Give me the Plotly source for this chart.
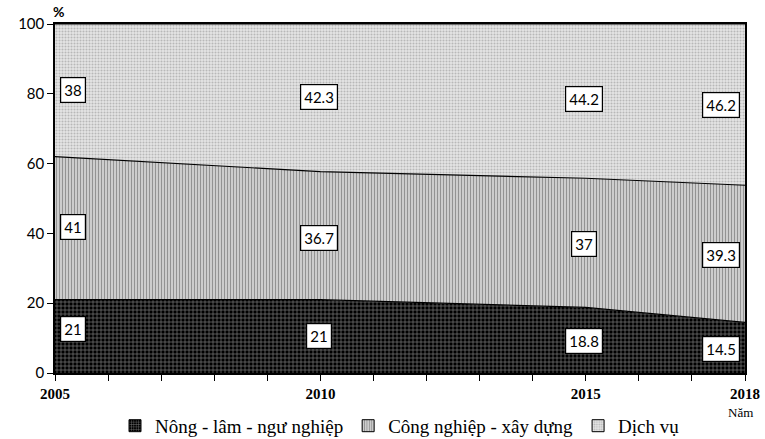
import plotly.graph_objects as go

years = [2005, 2010, 2015, 2018]
nong = [21, 21, 18.8, 14.5]
cong = [41, 36.7, 37, 39.3]
dich = [38, 42.3, 44.2, 46.2]
names = ["Nông - lâm - ngư nghiệp", "Công nghiệp - xây dựng", "Dịch vụ"]
xticks = ["2005", "2010", "2015", "2018"]

# label positions (annotation placement)
lab_x = [2005.34, 2009.97, 2014.97, 2017.55]
lab_y_n = [12.6, 10.6, 9.2, 6.9]
lab_y_c = [41.8, 38.7, 37.0, 33.8]
lab_y_d = [81.1, 79.1, 78.5, 76.8]

patterns = [
    dict(shape="+", fgcolor="white", bgcolor="black", size=4, solidity=0.3),
    dict(shape="|", fgcolor="#333333", bgcolor="#f2f2f2", size=3, solidity=0.6),
    dict(shape=".", fgcolor="#8a8a8a", bgcolor="#e6e6e6", size=3, solidity=0.4),
]
series = [nong, cong, dich]

fig = go.Figure()
for s, pat in zip(series, patterns):
    fig.add_trace(go.Scatter(
        x=years, y=s, stackgroup="one", mode="lines", showlegend=False,
        line=dict(color="black", width=1.2),
        fillcolor="white", fillpattern=pat,
    ))
# legend-only entries (square patterned swatches)
for nm, pat in zip(names, patterns):
    lp = dict(pat)
    lp["size"] = 3
    fig.add_trace(go.Bar(
        x=[None], y=[None], name=nm,
        marker=dict(color="white", line=dict(color="black", width=1), pattern=lp),
    ))

annos = []
for vals, ys in ((nong, lab_y_n), (cong, lab_y_c), (dich, lab_y_d)):
    for v, x, y in zip(vals, lab_x, ys):
        annos.append(dict(
            x=x, y=y, xref="x", yref="y", text=str(v), showarrow=False,
            font=dict(family="Lato, Liberation Sans", size=15, color="black"),
            bgcolor="white", bordercolor="black", borderwidth=1.2, borderpad=3,
        ))
annos.append(dict(x=0, xref="paper", xanchor="center", y=1, yref="paper", yanchor="bottom",
                  xshift=3, yshift=2, text="<b>%</b>", showarrow=False,
                  font=dict(family="Lato, Liberation Sans", size=14, color="black")))
annos.append(dict(x=1.0, xref="paper", xanchor="center", xshift=-5, y=-0.085, yref="paper",
                  yanchor="top", text="Năm", showarrow=False,
                  font=dict(family="Liberation Serif", size=13, color="black")))

all_years = list(range(2005, 2019))
tick_text = [str(y) if str(y) in xticks else "" for y in all_years]

fig.update_layout(
    width=765, height=439,
    margin=dict(l=55, r=20, t=24, b=66, autoexpand=False),
    paper_bgcolor="white", plot_bgcolor="white",
    showlegend=True,
    legend=dict(orientation="h", x=0.5, xanchor="center", y=-0.097, yanchor="top",
                font=dict(family="Times New Roman, Liberation Serif, serif", size=19, color="black"),
                itemwidth=30, traceorder="normal", bgcolor="rgba(0,0,0,0)"),
    xaxis=dict(range=[2005, 2018], tickvals=all_years, ticktext=tick_text,
               ticks="outside", ticklen=6, tickcolor="black", showgrid=False,
               showline=True, linecolor="black", linewidth=1.5, mirror=True,
               tickfont=dict(family="Liberation Serif", size=15, color="black", weight="bold"),
               zeroline=False),
    yaxis=dict(range=[0, 100], dtick=20, ticks="outside", ticklen=6, tickcolor="black",
               showgrid=False, showline=True, linecolor="black", linewidth=1.5, mirror=True,
               tickfont=dict(family="Lato, Liberation Sans", size=15, color="black"),
               zeroline=False),
    annotations=annos,
)

fig.write_html("out.html", config={"displayModeBar": False},
               post_script="document.body.style.margin='0';")
